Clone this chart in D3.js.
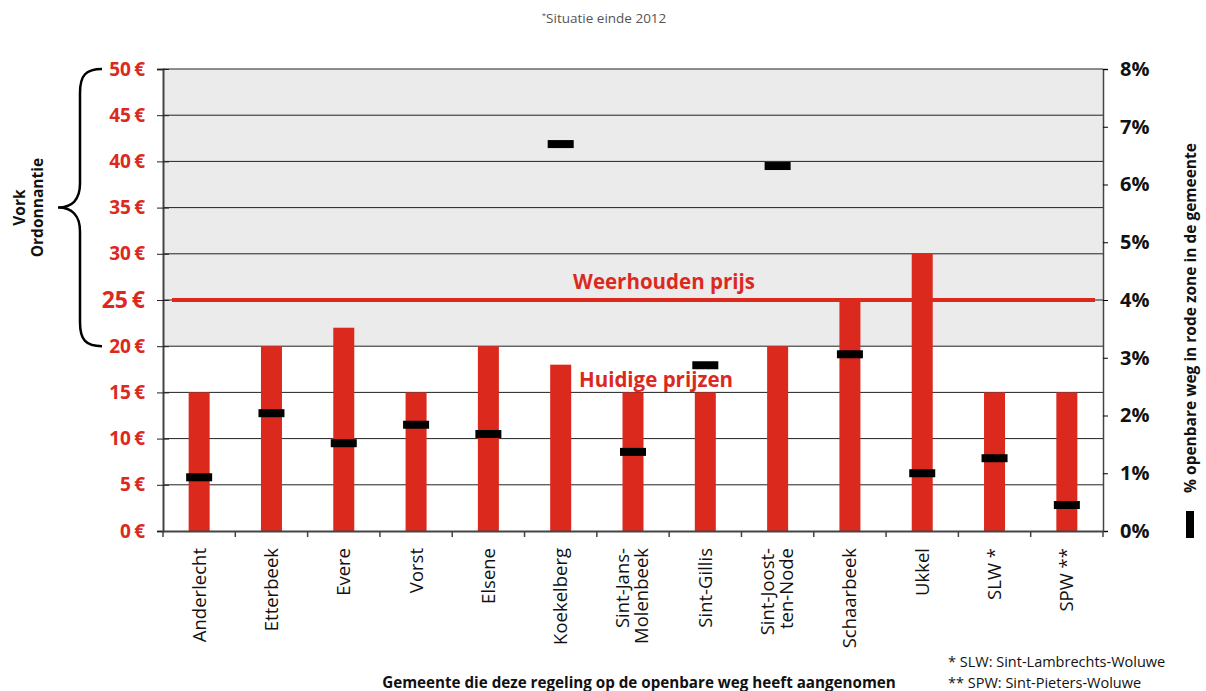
<!DOCTYPE html>
<html>
<head>
<meta charset="utf-8">
<script src="https://cdn.jsdelivr.net/npm/d3@7"></script>
<style>
  body { margin: 0; background: #fff; }
  svg { font-family: "Open Sans", "Noto Sans", sans-serif; }
</style>
</head>
<body>
<svg id="chart" width="1206" height="691"></svg>
<script>
// gemeenten (two-line labels split with |)
const gemeenten = ["Anderlecht", "Etterbeek", "Evere", "Vorst", "Elsene", "Koekelberg",
  "Sint-Jans-|Molenbeek", "Sint-Gillis", "Sint-Joost-|ten-Node", "Schaarbeek", "Ukkel", "SLW *", "SPW **"]
// huidige prijzen (€)
const prijzen = [15, 20, 22, 15, 20, 18, 15, 15, 20, 25, 30, 15, 15]
// % openbare weg in rode zone
const rodeZone = [0.93, 2.04, 1.52, 1.84, 1.68, 6.70, 1.37, 2.87, 6.32, 3.06, 1.00, 1.26, 0.45]
const weerhoudenPrijs = 25
const euroTicks = [0, 5, 10, 15, 20, 25, 30, 35, 40, 45, 50]
const pctTicks = [0, 1, 2, 3, 4, 5, 6, 7, 8]

const RED = "#dc291e"
const FONT = '"Open Sans", "Noto Sans", sans-serif'
const svg = d3.select("#chart")
const plotL = 163, plotR = 1103, plotT = 69, plotB = 531

const x = d3.scaleBand().domain(gemeenten).range([plotL, plotR])
const yEuro = d3.scaleLinear().domain([0, 50]).range([plotB, plotT])
const yPct = d3.scaleLinear().domain([0, 8]).range([plotB, plotT])

// grey band for the ordonnantie range (20 - 50 €)
svg.append("rect")
    .attr("x", plotL).attr("y", yEuro(50))
    .attr("width", plotR - plotL).attr("height", yEuro(20) - yEuro(50))
    .attr("fill", "#ebebeb")

// gridlines
svg.append("g")
    .selectAll("line")
    .data(euroTicks.filter(d => d > 0))
    .join("line")
        .attr("x1", plotL).attr("x2", plotR)
        .attr("y1", d => yEuro(d)).attr("y2", d => yEuro(d))
        .attr("stroke", "#222").attr("stroke-width", 1)

// current price bars
svg.append("g")
    .selectAll("rect")
    .data(prijzen)
    .join("rect")
        .attr("x", (d, i) => x(gemeenten[i]) + x.bandwidth() / 2 - 10.5)
        .attr("width", 21)
        .attr("y", d => yEuro(d))
        .attr("height", d => yEuro(0) - yEuro(d))
        .attr("fill", RED)

// weerhouden prijs line
svg.append("line")
    .attr("x1", plotL + 9).attr("x2", plotR - 8)
    .attr("y1", yEuro(weerhoudenPrijs)).attr("y2", yEuro(weerhoudenPrijs))
    .attr("stroke", RED).attr("stroke-width", 4)

// % markers
svg.append("g")
    .selectAll("rect")
    .data(rodeZone)
    .join("rect")
        .attr("x", (d, i) => x(gemeenten[i]) + x.bandwidth() / 2 - 13)
        .attr("width", 26)
        .attr("y", d => yPct(d) - 4)
        .attr("height", 8)
        .attr("fill", "#000")

// axes (d3 sets its own font on the group, override it)
const axisL = svg.append("g")
    .attr("transform", `translate(${plotL},0)`)
    .call(d3.axisLeft(yEuro).tickValues(euroTicks).tickSize(6).tickFormat(d => d + "\u2009€").tickPadding(12))
    .attr("font-family", FONT)
axisL.select(".domain").attr("stroke", "#444").attr("stroke-width", 2)
axisL.selectAll(".tick line").attr("stroke", "#222").attr("x2", 6).attr("x1", -6)
axisL.selectAll("text")
    .attr("fill", RED).attr("font-weight", "bold")
    .attr("font-size", d => d === 25 ? 23 : 19)

const axisR = svg.append("g")
    .attr("transform", `translate(${plotR},0)`)
    .call(d3.axisRight(yPct).tickValues(pctTicks).tickSize(5).tickFormat(d => d + "%").tickPadding(12))
    .attr("font-family", FONT)
axisR.select(".domain").attr("stroke", "#444").attr("stroke-width", 1.5)
axisR.selectAll("text").attr("fill", "#111").attr("font-weight", "bold").attr("font-size", 20)

const axisB = svg.append("g")
    .attr("transform", `translate(0,${plotB})`)
    .call(d3.axisBottom(x).tickSize(0).tickFormat(""))
axisB.select(".domain").attr("stroke", "#444").attr("stroke-width", 2)
axisB.selectAll(".tb")
    .data(d3.range(gemeenten.length + 1))
    .join("line")
        .attr("x1", i => plotL + i * x.step()).attr("x2", i => plotL + i * x.step())
        .attr("y1", 0).attr("y2", 6)
        .attr("stroke", "#444").attr("stroke-width", 1.5)

// x labels, rotated
const lbl = svg.append("g")
    .selectAll("text")
    .data(gemeenten)
    .join("text")
        .attr("transform", d => `translate(${x(d) + x.bandwidth() / 2},548) rotate(-90)`)
        .attr("text-anchor", "end")
        .attr("font-size", 18.5)
        .attr("fill", "#111")
lbl.each(function(d){
    const parts = d.split("|")
    const t = d3.select(this)
    parts.forEach((p, j) => {
        t.append("tspan")
            .attr("x", 0)
            .attr("dy", parts.length === 1 ? "0.35em" : (j === 0 ? "-0.22em" : "1.05em"))
            .text(p)
    })
})

// annotations
svg.append("text")
    .attr("x", 664).attr("y", 289)
    .attr("text-anchor", "middle")
    .attr("fill", RED).attr("font-weight", "bold").attr("font-size", 20.5)
    .text("Weerhouden prijs")
svg.append("text")
    .attr("x", 656).attr("y", 387)
    .attr("text-anchor", "middle")
    .attr("fill", RED).attr("font-weight", "bold").attr("font-size", 20.5)
    .text("Huidige prijzen")

// brace for Vork Ordonnantie
const bt = yEuro(50), bb = yEuro(20), bm = (bt + bb) / 2, bx = 80
svg.append("path")
    .attr("d", `M${bx + 22},${bt} C${bx + 6},${bt} ${bx},${bt + 6} ${bx},${bt + 24}
        L${bx},${bm - 24} C${bx},${bm - 8} ${bx - 8},${bm} ${bx - 22},${bm}
        C${bx - 8},${bm} ${bx},${bm + 8} ${bx},${bm + 24}
        L${bx},${bb - 24} C${bx},${bb - 6} ${bx + 6},${bb} ${bx + 22},${bb}`)
    .attr("fill", "none").attr("stroke", "#000").attr("stroke-width", 2.5)

const vork = svg.append("text")
    .attr("transform", `translate(28,${bm}) rotate(-90)`)
    .attr("text-anchor", "middle")
    .attr("font-weight", "bold").attr("font-size", 15.5).attr("fill", "#111")
vork.append("tspan").attr("x", 0).attr("dy", "-0.2em").text("Vork")
vork.append("tspan").attr("x", 0).attr("dy", "1.15em").text("Ordonnantie")

// right axis title + legend swatch
svg.append("text")
    .attr("transform", `translate(1196,318) rotate(-90)`)
    .attr("text-anchor", "middle")
    .attr("font-weight", "bold").attr("font-size", 15.5).attr("fill", "#111")
    .text("% openbare weg in rode zone in de gemeente")
svg.append("rect")
    .attr("x", 1186).attr("y", 511).attr("width", 8).attr("height", 27).attr("fill", "#000")

// titles & footnotes
svg.append("text")
    .attr("x", 639).attr("y", 688)
    .attr("text-anchor", "middle")
    .attr("font-weight", "bold").attr("font-size", 15.2).attr("fill", "#111")
    .text("Gemeente die deze regeling op de openbare weg heeft aangenomen")

const note = svg.append("text").attr("x", 604).attr("y", 23)
    .attr("text-anchor", "middle").attr("font-size", 13.5).attr("fill", "#555")
note.append("tspan").attr("font-size", 8).attr("dy", "-5").text("*")
note.append("tspan").attr("dy", "5").text("Situatie einde 2012")

svg.append("text").attr("x", 948).attr("y", 667).attr("font-size", 14.5).attr("fill", "#111")
    .text("* SLW: Sint-Lambrechts-Woluwe")
svg.append("text").attr("x", 948).attr("y", 688).attr("font-size", 14.5).attr("fill", "#111")
    .text("** SPW: Sint-Pieters-Woluwe")
</script>
</body>
</html>
